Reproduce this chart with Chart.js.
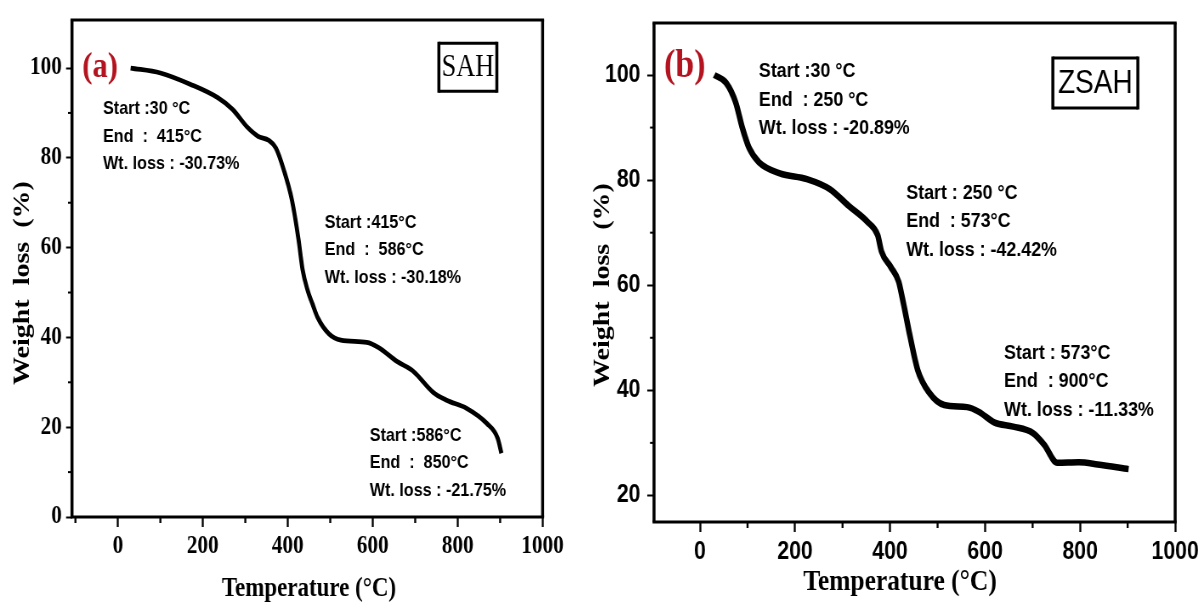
<!DOCTYPE html>
<html lang="en">
<head>
<meta charset="UTF-8">
<title>TGA curves SAH / ZSAH</title>
<script src="https://cdn.jsdelivr.net/npm/chart.js"></script>
<style>
  body { margin: 0; background: #fff; }
  .wrap { position: absolute; top: 0; height: 603px; overflow: hidden; }
  .wrap canvas { transform-origin: 0 0; transform: scaleX(0.85); }
</style>
</head>
<body>
<div class="wrap" style="left:0;width:575px"><canvas id="ca"></canvas></div>
<div class="wrap" style="left:575px;width:628px"><canvas id="cb"></canvas></div>
<script>
// the original figure is squeezed horizontally, canvases are drawn wider and scaled back by S
const S = 0.85;
const H = 603;
const SERIF = '"Liberation Serif", "Times New Roman", serif';
const SANS = '"Liberation Sans", Arial, sans-serif';

// data
const tempA   = [30, 100, 170, 235, 270, 305, 330, 355, 372, 390, 410, 425, 435, 447, 458, 470, 497, 525, 586, 613, 658, 695, 742, 774, 821, 868, 894, 903];
const weightA = [100, 98.9, 96.4, 93.4, 90.8, 86.8, 84.8, 83.9, 82.2, 77.5, 70.5, 62, 55, 50.4, 47.5, 44.5, 40.8, 39.4, 38.9, 37.8, 34.6, 32.5, 27.8, 26, 24.2, 20.9, 17.6, 14.2];
const tempB   = [30, 55, 75, 89, 103, 124, 168, 225, 273, 313, 353, 374, 382, 402, 418, 426, 442, 458, 482, 514, 562, 587, 619, 659, 700, 724, 752, 797, 837, 902];
const weightB = [100, 98.5, 94.8, 90, 86.2, 83.4, 81.3, 80.2, 78.3, 75.1, 72, 69.5, 66.4, 63.4, 60.7, 57.5, 50.3, 43.9, 39.6, 37.2, 36.8, 35.9, 33.9, 33.1, 31.9, 29.7, 26.2, 26.3, 25.9, 25];

const xTicks  = [0, 200, 400, 600, 800, 1000];
const xMinor  = [-100, 100, 300, 500, 700, 900];
const yTicksA = [0, 20, 40, 60, 80, 100];
const yMinorA = [10, 30, 50, 70, 90];
const yTicksB = [20, 40, 60, 80, 100];
const yMinorB = [30, 50, 70, 90];

const notesA = [
  ['Start :30 °C', 'End  :  415°C', 'Wt. loss : -30.73%'],
  ['Start :415°C', 'End  :  586°C', 'Wt. loss : -30.18%'],
  ['Start :586°C', 'End  :  850°C', 'Wt. loss : -21.75%']
];
const notesB = [
  ['Start :30 °C', 'End  : 250 °C', 'Wt. loss : -20.89%'],
  ['Start : 250 °C', 'End  : 573°C', 'Wt. loss : -42.42%'],
  ['Start : 573°C', 'End  : 900°C', 'Wt. loss : -11.33%']
];

const xTitle = 'Temperature (°C)';
const yTitle = 'Weight  loss  (%)';

// layout of each panel, in page pixels
const panels = [
  {
    canvas: 'ca', left: 0, width: 575,
    area: { l: 72, r: 543, t: 19, b: 517 },
    xMin: -108, xMax: 1000, yMin: 0, yMax: 110.7,
    temps: tempA, weights: weightA, yTicks: yTicksA, yMinor: yMinorA,
    lineWidth: 4.8,
    tickFont: { family: SERIF, size: 25, weight: 'bold' },
    xPad: 5, yPad: 5, yTickLen: 7,
    notes: notesA, noteAt: [[-35, 90.9], [487, 65.6], [593, 18.2]], noteSize: 19, noteGap: 27.5,
    letter: '(a)', letterAt: [-42, 100], letterSize: 36,
    sample: 'SAH', sampleAt: [824, 100.2], sampleBox: [58, 48], sampleFont: 'normal 31px ' + SERIF,
    yT: { x: 23, y: 283, size: 28 },
    xT: { x: 309, y: 589, size: 27 }
  },
  {
    canvas: 'cb', left: 575, width: 628,
    area: { l: 654, r: 1175, t: 15, b: 522 },
    xMin: -96.8, xMax: 1000, yMin: 14.94, yMax: 109.9,
    temps: tempB, weights: weightB, yTicks: yTicksB, yMinor: yMinorB,
    lineWidth: 6.5,
    tickFont: { family: SANS, size: 25, weight: 'bold' },
    xPad: 5, yPad: 8, yTickLen: 8,
    notes: notesB, noteAt: [[124, 100.7], [434, 77.6], [640, 47.1]], noteSize: 21, noteGap: 28.5,
    letter: '(b)', letterAt: [-32, 101.5], letterSize: 40,
    sample: 'ZSAH', sampleAt: [832, 98.5], sampleBox: [85, 50], sampleFont: 'normal 33px ' + SANS,
    yT: { x: 603, y: 285, size: 28 },
    xT: { x: 900, y: 582, size: 30 }
  }
];

function overlay(p) {
  return {
    id: 'overlay',
    afterDraw(chart) {
      const ctx = chart.ctx, a = chart.chartArea;
      const xs = chart.scales.x, ys = chart.scales.y;
      const ix = xd => (xd - p.left) / S;
      ctx.save();
      ctx.strokeStyle = '#000';
      ctx.fillStyle = '#000';

      // frame
      ctx.lineWidth = 3;
      ctx.beginPath();
      ctx.moveTo(a.left - 1.5 / S, a.top); ctx.lineTo(a.right + 1.5 / S, a.top);
      ctx.moveTo(a.left - 1.5 / S, a.bottom); ctx.lineTo(a.right + 1.5 / S, a.bottom);
      ctx.stroke();
      ctx.lineWidth = 3 / S;
      ctx.beginPath();
      ctx.moveTo(a.left, a.top); ctx.lineTo(a.left, a.bottom);
      ctx.moveTo(a.right, a.top); ctx.lineTo(a.right, a.bottom);
      ctx.stroke();

      // minor ticks
      ctx.lineWidth = 2 / S;
      xMinor.forEach(v => {
        if (v < xs.min || v > xs.max) return;
        const px = xs.getPixelForValue(v);
        ctx.beginPath(); ctx.moveTo(px, a.bottom); ctx.lineTo(px, a.bottom + 6); ctx.stroke();
      });
      ctx.lineWidth = 2;
      p.yMinor.forEach(v => {
        const py = ys.getPixelForValue(v);
        ctx.beginPath(); ctx.moveTo(a.left - 4 / S, py); ctx.lineTo(a.left, py); ctx.stroke();
      });

      // step annotations
      ctx.font = 'bold ' + p.noteSize + 'px ' + SANS;
      ctx.textAlign = 'left';
      ctx.textBaseline = 'middle';
      p.notes.forEach((lines, i) => {
        const x = xs.getPixelForValue(p.noteAt[i][0]);
        const y = ys.getPixelForValue(p.noteAt[i][1]);
        lines.forEach((t, j) => ctx.fillText(t, x, y + j * p.noteGap));
      });

      // panel letter
      ctx.fillStyle = '#b3141f';
      ctx.font = 'bold ' + p.letterSize + 'px ' + SERIF;
      ctx.textAlign = 'center';
      ctx.fillText(p.letter, xs.getPixelForValue(p.letterAt[0]), ys.getPixelForValue(p.letterAt[1]));

      // sample name box
      ctx.fillStyle = '#000';
      const cx = xs.getPixelForValue(p.sampleAt[0]), cy = ys.getPixelForValue(p.sampleAt[1]);
      const bw = p.sampleBox[0] / S, bh = p.sampleBox[1];
      ctx.lineWidth = 3;
      ctx.beginPath();
      ctx.moveTo(cx - bw / 2, cy - bh / 2); ctx.lineTo(cx + bw / 2, cy - bh / 2);
      ctx.moveTo(cx - bw / 2, cy + bh / 2); ctx.lineTo(cx + bw / 2, cy + bh / 2);
      ctx.stroke();
      ctx.lineWidth = 3 / S;
      ctx.beginPath();
      ctx.moveTo(cx - bw / 2, cy - bh / 2 - 1.5); ctx.lineTo(cx - bw / 2, cy + bh / 2 + 1.5);
      ctx.moveTo(cx + bw / 2, cy - bh / 2 - 1.5); ctx.lineTo(cx + bw / 2, cy + bh / 2 + 1.5);
      ctx.stroke();
      ctx.font = p.sampleFont;
      ctx.fillText(p.sample, cx, cy + 1);

      // axis titles
      ctx.font = 'bold ' + p.xT.size + 'px ' + SERIF;
      ctx.fillText(xTitle, ix(p.xT.x), p.xT.y);
      ctx.font = 'bold ' + p.yT.size + 'px ' + SERIF;
      ctx.translate(ix(p.yT.x), p.yT.y);
      ctx.rotate(-Math.PI / 2);
      ctx.fillText(yTitle, 0, 0);
      ctx.restore();
    }
  };
}

panels.forEach(p => {
  const cv = document.getElementById(p.canvas);
  const W = p.width / S;
  cv.width = Math.round(W);
  cv.height = H;
  const points = p.temps.map((t, i) => ({ x: t, y: p.weights[i] }));

  new Chart(cv.getContext('2d'), {
    type: 'line',
    data: {
      datasets: [{
        data: points,
        borderColor: '#000',
        borderWidth: p.lineWidth,
        pointRadius: 0,
        cubicInterpolationMode: 'monotone',
        fill: false
      }]
    },
    options: {
      responsive: false,
      animation: false,
      events: [],
      layout: {
        padding: { left: 0, top: p.area.t, bottom: 0, right: W - (p.area.r - p.left) / S }
      },
      plugins: { legend: { display: false }, tooltip: { enabled: false } },
      scales: {
        x: {
          type: 'linear',
          min: p.xMin, max: p.xMax,
          afterBuildTicks: s => { s.ticks = xTicks.map(v => ({ value: v })); },
          afterFit: s => { s.height = H - p.area.b; },
          grid: { display: true, drawOnChartArea: false, drawTicks: true, tickLength: 10, tickWidth: 2 / S, tickColor: '#000' },
          border: { display: false },
          ticks: { color: '#000', font: p.tickFont, padding: p.xPad, maxRotation: 0, autoSkip: false, callback: v => String(v) }
        },
        y: {
          type: 'linear',
          min: p.yMin, max: p.yMax,
          afterBuildTicks: s => { s.ticks = p.yTicks.map(v => ({ value: v })); },
          afterFit: s => { s.width = (p.area.l - p.left) / S; },
          grid: { display: true, drawOnChartArea: false, drawTicks: true, tickLength: p.yTickLen, tickWidth: 2, tickColor: '#000' },
          border: { display: false },
          ticks: { color: '#000', font: p.tickFont, padding: p.yPad, autoSkip: false, callback: v => String(v) }
        }
      }
    },
    plugins: [overlay(p)]
  });
});
</script>
</body>
</html>
